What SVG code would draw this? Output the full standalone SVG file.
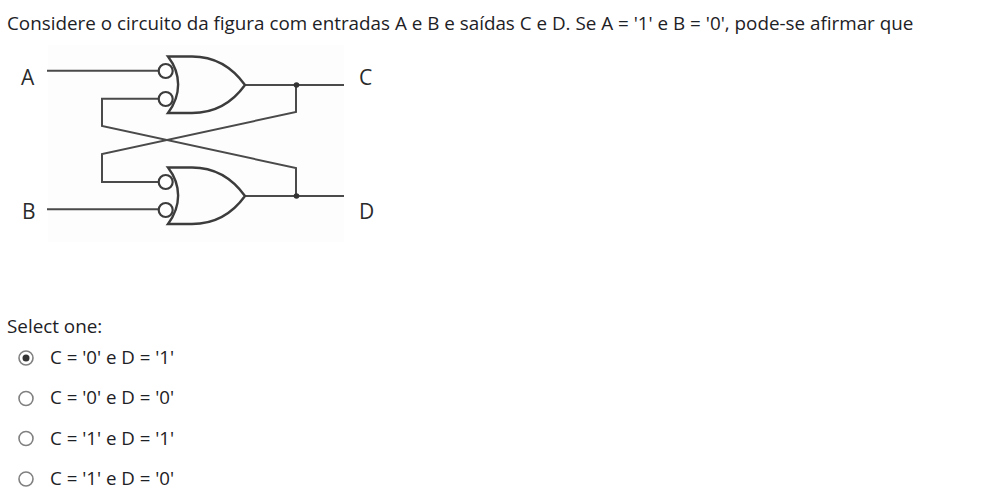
<svg xmlns="http://www.w3.org/2000/svg" width="986" height="498" viewBox="0 0 986 498">
<style>
text{font-family:"Open Sans","Noto Sans",sans-serif;fill:#1d2125}
.q{font-size:18.840px}
.o{font-size:18.700px}
.l{font-size:21px;fill:#2a2a2a}
.w{fill:none;stroke:#4a4a4a;stroke-width:2}
.g{fill:none;stroke:#3c3c3c;stroke-width:2.400}
.b{fill:#fff;stroke:#3c3c3c;stroke-width:2.200}
.r{fill:#fff;stroke:#808080;stroke-width:1.600}
</style>
<rect width="986" height="498" fill="#fff"/>
<text class="q" x="7" y="30">Considere o circuito da figura com entradas A e B e saídas C e D. Se A = '1' e B = '0', pode-se afirmar que</text>
<rect x="48" y="45" width="296" height="197" fill="#fdfdfd"/>
<g id="connectors">
<path class="w" d="M47 70.700H160"/>
<path class="w" d="M160 98.700H102V126L296 168V196"/>
<path class="w" d="M160 182H102V154L296 112V85"/>
<path class="w" d="M47 209.300H160"/>
<path class="w" d="M245 85H344"/>
<path class="w" d="M245 196H344"/>
<circle cx="296.500" cy="85" r="2.800" fill="#333"/>
<circle cx="296.500" cy="196" r="2.800" fill="#333"/>
</g>
<g id="gate-top">
<circle class="b" cx="165.700" cy="71" r="7"/>
<circle class="b" cx="165.700" cy="99" r="7"/>
<path class="g" d="M168 56.500H192C214 56.500 232 67 245 85C232 103 214 113 192 113H168C181.500 95 181.500 74 168 56.500Z"/>
</g>
<g id="gate-bottom">
<circle class="b" cx="165.700" cy="182" r="7"/>
<circle class="b" cx="165.700" cy="210" r="7"/>
<path class="g" d="M168 167.500H192C214 167.500 232 178 245 196C232 214 214 224 192 224H168C181.500 206 181.500 185 168 167.500Z"/>
</g>
<g id="labels">
<text class="l" x="21" y="85">A</text>
<text class="l" x="22" y="219">B</text>
<text class="l" x="359" y="85">C</text>
<text class="l" x="359" y="219">D</text>
</g>
<text class="q" x="7" y="333">Select one:</text>
<g id="option-1">
<circle class="r" cx="26" cy="358" r="7"/><circle cx="26" cy="358" r="3.500" fill="#333"/>
<text class="o" x="50" y="364">C = '0' e D = '1'</text>
</g>
<g id="option-2">
<circle class="r" cx="26" cy="398.500" r="7"/>
<text class="o" x="50" y="404">C = '0' e D = '0'</text>
</g>
<g id="option-3">
<circle class="r" cx="26" cy="438.500" r="7"/>
<text class="o" x="50" y="445">C = '1' e D = '1'</text>
</g>
<g id="option-4">
<circle class="r" cx="26" cy="479" r="7"/>
<text class="o" x="50" y="485">C = '1' e D = '0'</text>
</g>
</svg>
